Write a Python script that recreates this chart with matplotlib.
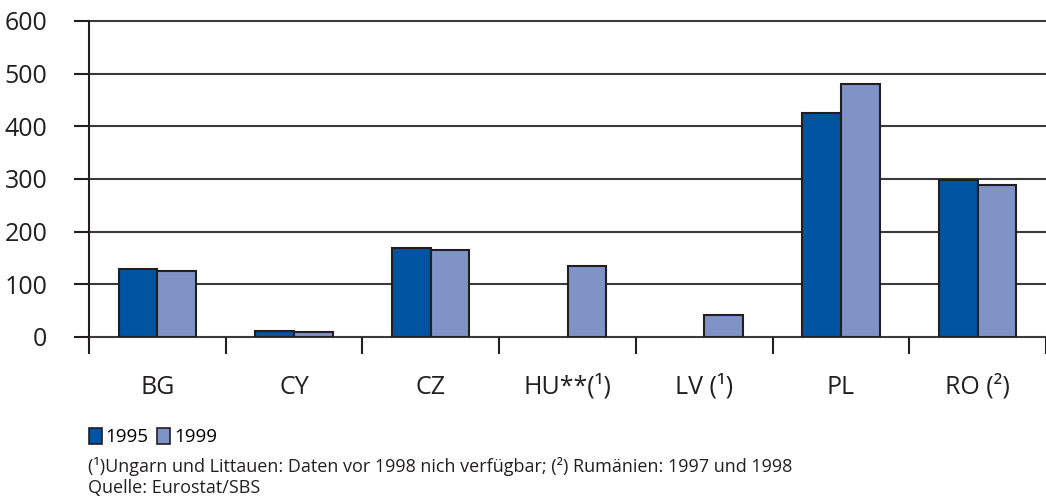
import matplotlib
matplotlib.use("Agg")
import matplotlib.pyplot as plt
from matplotlib.patches import Patch
import numpy as np

# data (nan = no data for that year)
categories = ["BG", "CY", "CZ", "HU**(¹)", "LV (¹)", "PL", "RO (²)"]
values_1995 = [130, 11, 169, np.nan, np.nan, 426, 298]
values_1999 = [125, 10, 165, 135, 41, 481, 288]
series_labels = ["1995", "1999"]
yticks = [0, 100, 200, 300, 400, 500, 600]

col_1995 = "#0154a1"
col_1999 = "#8093c6"
edge = "#231f20"

plt.rcParams['font.family'] = ['Open Sans', 'DejaVu Sans']

fig = plt.figure(figsize=(10.46, 5.03), dpi=100)
ax = fig.add_axes([89 / 1046, 166 / 503, 957 / 1046, 316 / 503])

x = np.arange(len(categories))
w = 0.283
ax.bar(x - w / 2, values_1995, w, color=col_1995, edgecolor=edge, linewidth=1.5, zorder=3)
ax.bar(x + w / 2, values_1999, w, color=col_1999, edgecolor=edge, linewidth=1.5, zorder=3)

ax.set_ylim(0, 600)
ax.set_xlim(-0.5, -0.5 + 957 / 138)
ax.set_yticks(yticks)
ax.tick_params(axis='y', length=11, width=1.5, color=edge, pad=19, labelsize=18, labelcolor=edge)
for t in yticks:
    ax.axhline(t, color='#3a3a3a', linewidth=1.5, zorder=1, clip_on=False)

# category boundaries as major ticks, names as minor tick labels
ax.set_xticks(np.arange(len(categories) + 1) - 0.5)
ax.set_xticklabels([])
ax.set_xticks(x, minor=True)
ax.set_xticklabels(categories, minor=True)
ax.tick_params(axis='x', which='major', length=12, width=1.5, color=edge)
ax.tick_params(axis='x', which='minor', length=0, pad=27, labelsize=18, labelcolor=edge)

for s in ['top', 'right', 'bottom']:
    ax.spines[s].set_visible(False)
ax.spines['left'].set_color(edge)
ax.spines['left'].set_linewidth(1.5)
ax.spines['left'].set_bounds(-6, 600)

handles = [Patch(facecolor=col_1995, edgecolor=edge, linewidth=1.2),
           Patch(facecolor=col_1999, edgecolor=edge, linewidth=1.2)]
fig.legend(handles, series_labels, loc='center left', bbox_to_anchor=(72 / 1046, 1 - 437 / 503),
           ncol=2, frameon=False, fontsize=13.5, handlelength=0.7, handleheight=1.0,
           handletextpad=0.2, columnspacing=0.45)

fig.text(88 / 1046, 1 - 466 / 503,
         "(¹)Ungarn und Littauen: Daten vor 1998 nich verfügbar; (²) Rumänien: 1997 und 1998",
         fontsize=13, va='center', ha='left', color=edge)
fig.text(88 / 1046, 1 - 488 / 503, "Quelle: Eurostat/SBS",
         fontsize=13, va='center', ha='left', color=edge)

fig.savefig("out.png", dpi=100)
